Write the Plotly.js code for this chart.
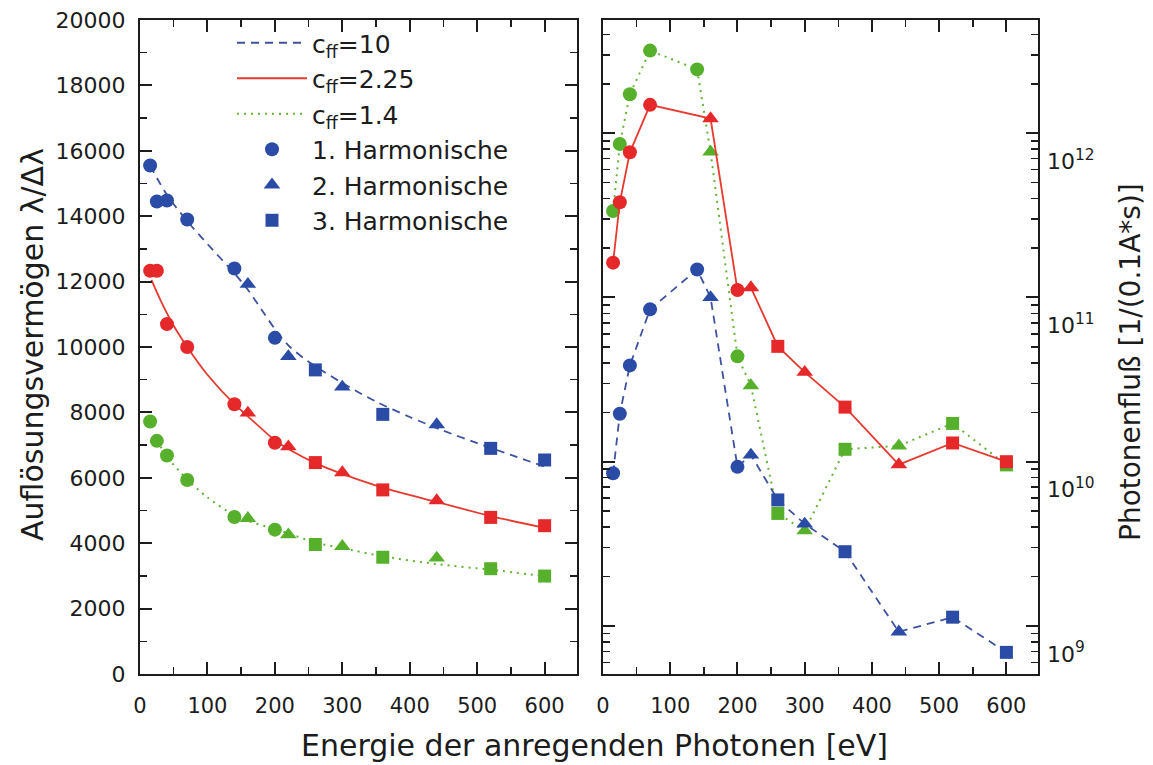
<!DOCTYPE html>
<html><head><meta charset="utf-8">
<script src="https://cdn.plot.ly/plotly-3.0.1.min.js"></script>
<style>html,body{margin:0;padding:0;background:#fff;}#chart{width:1153px;height:765px;}</style>
</head><body><div id="chart"></div>
<script>
// photon energies [eV] and harmonic order of each measuring point
const energy   = [15, 25, 40, 70, 140, 160, 200, 220, 260, 300, 360, 440, 520, 600];
const harmonic = [1, 1, 1, 1, 1, 2, 1, 2, 3, 2, 3, 2, 3, 3];

// resolving power (left panel)
const res10  = [15550, 14450, 14480, 13900, 12400, 11920, 10280, 9710, 9300, 8780, 7940, 7630, 6900, 6545];
const res225 = [12330, 12330, 10700, 10000, 8250, 7985, 7070, 6950, 6465, 6160, 5630, 5305, 4790, 4535];
const res14  = [7720, 7130, 6680, 5935, 4800, 4760, 4415, 4260, 3960, 3905, 3570, 3550, 3220, 2995];

// calculated curves (left panel)
const fit10X  = [15, 40, 70, 100, 140, 160, 180, 200, 220, 250, 300, 350, 400, 450, 500, 550, 600];
const fit10Y  = [15550, 14650, 13850, 13150, 12250, 11750, 11150, 10550, 10050, 9550, 8900, 8330, 7860, 7440, 7060, 6700, 6340];
const fit225X = [17, 30, 50, 70, 100, 140, 160, 200, 220, 260, 300, 360, 440, 520, 600];
const fit225Y = [12050, 11450, 10650, 10000, 9150, 8250, 7880, 7150, 6880, 6450, 6120, 5700, 5260, 4830, 4470];
const fit14X  = [25, 40, 70, 100, 140, 160, 200, 220, 260, 300, 360, 440, 520, 600];
const fit14Y  = [7150, 6650, 5950, 5400, 4850, 4680, 4430, 4300, 4020, 3850, 3600, 3360, 3190, 2990];

// photon flux (right panel)
const flux10  = [8.5e9, 1.96e10, 3.86e10, 8.47e10, 1.48e11, 1.0e11, 9.3e9, 1.1e10, 5.85e9, 4.18e9, 2.83e9, 9.2e8, 1.13e9, 6.9e8];
const flux225 = [1.63e11, 3.8e11, 7.66e11, 1.49e12, null, 1.23e12, 1.11e11, 1.15e11, 5.04e10, 3.51e10, 2.15e10, 9.6e9, 1.3e10, 1.0e10];
const flux14  = [3.36e11, 8.6e11, 1.73e12, 3.19e12, 2.45e12, 7.7e11, 4.38e10, 2.91e10, 4.84e9, 3.8e9, 1.19e10, 1.25e10, 1.71e10, 9.56e9];

const seriesNames = ['c<sub>ff</sub>=10', 'c<sub>ff</sub>=2.25', 'c<sub>ff</sub>=1.4'];
const harmonicNames = ['1. Harmonische', '2. Harmonische', '3. Harmonische'];
const xTicks = [0, 100, 200, 300, 400, 500, 600];
const fluxTickVals = [1e9, 1e10, 1e11, 1e12];
const fluxTickText = ['10<sup>9</sup>', '10<sup>10</sup>', '10<sup>11</sup>', '10<sup>12</sup>'];

const BLUE = '#2b4ca6', RED = '#e5282a', GREEN = '#56b02c';
const BLUEL = '#3f529e', REDL = '#e63a30', GREENL = '#62b436';
const SYM = {1: 'circle', 2: 'triangle-up', 3: 'square'};
const SIZE = {1: 14, 2: 14.5, 3: 13};
const syms = harmonic.map(h => SYM[h]);
const sizes = harmonic.map(h => SIZE[h]);

const traces = [];
// fit curves (legend lines)
traces.push({x: fit10X, y: fit10Y, xaxis: 'x', yaxis: 'y', mode: 'lines', name: seriesNames[0],
  line: {color: BLUEL, width: 1.8, dash: '8px,6px', shape: 'spline', smoothing: 0.8}});
traces.push({x: fit225X, y: fit225Y, xaxis: 'x', yaxis: 'y', mode: 'lines', name: seriesNames[1],
  line: {color: REDL, width: 1.8, shape: 'spline', smoothing: 0.8}});
traces.push({x: fit14X, y: fit14Y, xaxis: 'x', yaxis: 'y', mode: 'lines', name: seriesNames[2],
  line: {color: GREENL, width: 2, dash: '2px,5px', shape: 'spline', smoothing: 0.8}});

// blue markers split by harmonic (legend symbols)
[1, 2, 3].forEach(h => {
  const idx = harmonic.map((v, i) => v === h ? i : -1).filter(i => i >= 0);
  traces.push({x: idx.map(i => energy[i]), y: idx.map(i => res10[i]), xaxis: 'x', yaxis: 'y',
    mode: 'markers', name: harmonicNames[h - 1], opacity: 1,
    marker: {color: BLUE, symbol: SYM[h], size: SIZE[h], opacity: 1, line: {width: 0}}});
});
traces.push({x: energy, y: res225, xaxis: 'x', yaxis: 'y', mode: 'markers', showlegend: false, opacity: 1,
  marker: {color: RED, symbol: syms, size: sizes, opacity: 1, line: {width: 0}}});
traces.push({x: energy, y: res14, xaxis: 'x', yaxis: 'y', mode: 'markers', showlegend: false, opacity: 1,
  marker: {color: GREEN, symbol: syms, size: sizes, opacity: 1, line: {width: 0}}});

// right panel
traces.push({x: energy, y: flux14, xaxis: 'x2', yaxis: 'y2', mode: 'lines+markers', showlegend: false, opacity: 1,
  line: {color: GREENL, width: 2, dash: '2px,5px'}, marker: {color: GREEN, symbol: syms, size: sizes, opacity: 1, line: {width: 0}}});
traces.push({x: energy, y: flux10, xaxis: 'x2', yaxis: 'y2', mode: 'lines+markers', showlegend: false, opacity: 1,
  line: {color: BLUEL, width: 1.8, dash: '8px,6px'}, marker: {color: BLUE, symbol: syms, size: sizes, opacity: 1, line: {width: 0}}});
traces.push({x: energy, y: flux225, xaxis: 'x2', yaxis: 'y2', mode: 'lines+markers', showlegend: false, connectgaps: true, opacity: 1,
  line: {color: REDL, width: 1.8}, marker: {color: RED, symbol: syms, size: sizes, opacity: 1, line: {width: 0}}});
// empty trace so that the label axis of the right panel is drawn
traces.push({x: [], y: [], xaxis: 'x2', yaxis: 'y3', mode: 'markers', showlegend: false, hoverinfo: 'skip'});

const FONT = 'DejaVu Sans, sans-serif';
const INK = '#1c1c1c';
const base = {showline: true, linecolor: INK, linewidth: 2.2, mirror: 'ticks', ticks: 'inside', ticklen: 12,
  tickwidth: 2, tickcolor: INK, showgrid: false, zeroline: false};
const H = 765, W = 1153;
const yDom = [(H - 674) / H, (H - 20) / H];

const layout = {
  width: W, height: H, margin: {l: 0, r: 0, t: 0, b: 0},
  paper_bgcolor: '#fff', plot_bgcolor: '#fff',
  font: {family: FONT, color: INK},
  showlegend: true,
  legend: {x: 232 / W, y: (H - 20) / H, xanchor: 'left', yanchor: 'top', bgcolor: 'rgba(0,0,0,0)',
    font: {size: 25, family: FONT, color: INK}, itemwidth: 70, tracegroupgap: 0},
  xaxis: Object.assign({}, base, {domain: [140 / W, 577 / W], range: [0, 648], anchor: 'y',
    tickvals: xTicks, tickfont: {size: 21}, ticklabelstandoff: 12,
    minor: {dtick: 50, ticks: 'inside', ticklen: 7, tickwidth: 1.5, tickcolor: INK, showgrid: false}}),
  yaxis: Object.assign({}, base, {domain: yDom, range: [0, 20000], anchor: 'x', dtick: 2000, tickformat: 'd',
    tickfont: {size: 22}, ticklabelstandoff: 8,
    minor: {dtick: 1000, ticks: 'inside', ticklen: 7, tickwidth: 1.5, tickcolor: INK, showgrid: false}}),
  xaxis2: Object.assign({}, base, {domain: [603 / W, 1038 / W], range: [0, 647], anchor: 'y2',
    tickvals: xTicks, tickfont: {size: 21}, ticklabelstandoff: 12,
    minor: {dtick: 50, ticks: 'inside', ticklen: 7, tickwidth: 1.5, tickcolor: INK, showgrid: false}}),
  yaxis2: Object.assign({}, base, {domain: yDom, type: 'log', range: [8.707, 12.69], anchor: 'x2', side: 'right',
    dtick: 1, showticklabels: false,
    minor: {dtick: 'D1', ticks: 'inside', ticklen: 7, tickwidth: 1.5, tickcolor: INK, showgrid: false}}),
  yaxis3: {domain: yDom, type: 'log', range: [8.707 + 0.17, 12.69 + 0.17], anchor: 'x2', overlaying: 'y2', side: 'right',
    tickmode: 'array', tickvals: fluxTickVals, ticktext: fluxTickText, ticks: '', showline: false,
    showgrid: false, zeroline: false, tickfont: {size: 22}, ticklabelstandoff: 8},
  annotations: [
    {text: 'Energie der anregenden Photonen [eV]', xref: 'paper', yref: 'paper', x: 594 / W, y: (H - 745) / H,
      xanchor: 'center', yanchor: 'middle', showarrow: false, font: {size: 30, family: FONT, color: INK}},
    {text: 'Auflösungsvermögen λ/Δλ', xref: 'paper', yref: 'paper', x: 33 / W, y: (H - 345) / H, textangle: -90,
      xanchor: 'center', yanchor: 'middle', showarrow: false, font: {size: 30, family: FONT, color: INK}},
    {text: 'Photonenfluß [1/(0.1A*s)]', xref: 'paper', yref: 'paper', x: 1130 / W, y: (H - 362) / H, textangle: -90,
      xanchor: 'center', yanchor: 'middle', showarrow: false, font: {size: 28, family: FONT, color: INK}}
  ]
};

Plotly.newPlot('chart', traces, layout, {displayModeBar: false, staticPlot: true});
</script></body></html>
